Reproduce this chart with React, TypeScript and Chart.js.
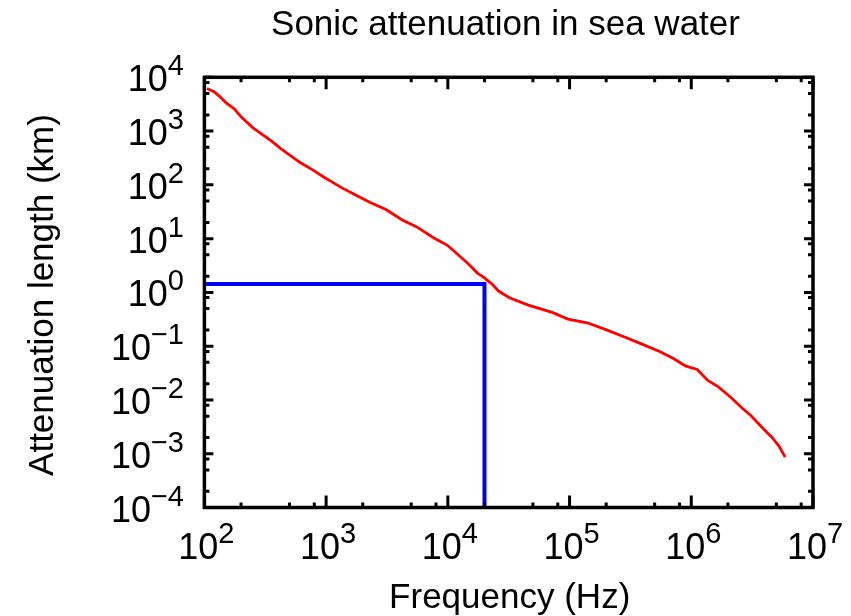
import React, { useEffect, useRef } from "react";
import { Chart, registerables } from "chart.js";

Chart.register(...registerables);

const chartTitle = "Sonic attenuation in sea water";
const xAxisTitle = "Frequency (Hz)";
const yAxisTitle = "Attenuation length (km)";

// Red curve: attenuation length vs frequency
const frequencyHz = [
  105, 120, 132, 151, 176, 200, 251, 302, 355, 427, 513, 617, 776, 955,
  1340, 1750, 2280, 3080, 4230, 5510, 7620, 9860, 11400, 14400, 17600,
  19500, 23100, 26100, 32100, 45900, 72100, 97000, 140000, 204000, 290000,
  394000, 550000, 714000, 897000, 1120000, 1360000, 1670000, 2120000,
  2640000, 3090000, 3730000, 4560000, 5200000, 5900000,
];
const attenuationKm = [
  6170, 5370, 4520, 3350, 2590, 1840, 1150, 851, 658, 468, 347, 257, 190, 140,
  88.7, 64.9, 47.4, 35.2, 22.2, 16.7, 10.4, 7.6, 5.7, 3.56, 2.26,
  1.95, 1.43, 1.06, 0.794, 0.579, 0.425, 0.318, 0.272, 0.199, 0.145,
  0.109, 0.0796, 0.059, 0.043, 0.0368, 0.0233, 0.0175, 0.0111,
  0.00692, 0.00513, 0.00324, 0.00205, 0.00143, 0.000867,
];

// Blue marker: 20 kHz cut
const markerFrequencyHz = [100, 20000, 20000];
const markerLengthKm = [1.44, 1.44, 0.0001];

const xTickExponents = [2, 3, 4, 5, 6, 7];
const yTickExponents = [-4, -3, -2, -1, 0, 1, 2, 3, 4];
const minorMultipliers = [2, 5, 8];

const FONT = '"Liberation Sans", Arial, Helvetica, sans-serif';

function expText(e: number) {
  return e < 0 ? "\u2212" + String(-e) : String(e);
}

const decorPlugin = {
  id: "decor",
  afterDatasetsDraw(chart: any) {
    const { ctx, chartArea: a, scales } = chart;
    const xs = scales.x;
    const ys = scales.y;
    ctx.save();
    ctx.strokeStyle = "#000";
    ctx.fillStyle = "#000";

    // frame
    ctx.lineWidth = 3.5;
    ctx.strokeRect(a.left, a.top, a.right - a.left, a.bottom - a.top);

    // ticks
    ctx.lineWidth = 3;
    ctx.beginPath();
    for (const e of xTickExponents) {
      const px = xs.getPixelForValue(Math.pow(10, e));
      ctx.moveTo(px, a.bottom);
      ctx.lineTo(px, a.bottom - 12);
      ctx.moveTo(px, a.top);
      ctx.lineTo(px, a.top + 12);
      if (e < xTickExponents[xTickExponents.length - 1]) {
        for (const m of minorMultipliers) {
          const mx = xs.getPixelForValue(m * Math.pow(10, e));
          ctx.moveTo(mx, a.bottom);
          ctx.lineTo(mx, a.bottom - 5);
          ctx.moveTo(mx, a.top);
          ctx.lineTo(mx, a.top + 5);
        }
      }
    }
    for (const e of yTickExponents) {
      const py = ys.getPixelForValue(Math.pow(10, e));
      ctx.moveTo(a.left, py);
      ctx.lineTo(a.left + 9, py);
      ctx.moveTo(a.right, py);
      ctx.lineTo(a.right - 9, py);
      if (e < yTickExponents[yTickExponents.length - 1]) {
        for (const m of minorMultipliers) {
          const my = ys.getPixelForValue(m * Math.pow(10, e));
          ctx.moveTo(a.left, my);
          ctx.lineTo(a.left + 5, my);
          ctx.moveTo(a.right, my);
          ctx.lineTo(a.right - 5, my);
        }
      }
    }
    ctx.stroke();

    const baseFont = `36px ${FONT}`;
    const supFont = `29px ${FONT}`;
    ctx.textBaseline = "alphabetic";
    ctx.textAlign = "left";

    // x tick labels
    for (const e of xTickExponents) {
      const px = xs.getPixelForValue(Math.pow(10, e));
      ctx.font = baseFont;
      const w1 = ctx.measureText("10").width;
      ctx.font = supFont;
      const w2 = ctx.measureText(expText(e)).width;
      const start = px - (w1 + w2) / 2 + 2;
      ctx.font = baseFont;
      ctx.fillText("10", start, a.bottom + 51);
      ctx.font = supFont;
      ctx.fillText(expText(e), start + w1, a.bottom + 35);
    }

    // y tick labels (right aligned)
    const rightEdge = 184;
    for (const e of yTickExponents) {
      const py = ys.getPixelForValue(Math.pow(10, e));
      ctx.font = supFont;
      const w2 = ctx.measureText(expText(e)).width;
      ctx.font = baseFont;
      const w1 = ctx.measureText("10").width;
      const start = rightEdge - w2 - w1;
      ctx.fillText("10", start, py + 14);
      ctx.font = supFont;
      ctx.fillText(expText(e), start + w1, py - 2);
    }

    // titles
    ctx.font = `35px ${FONT}`;
    ctx.textAlign = "center";
    ctx.fillText(chartTitle, 505.5, 35);
    ctx.fillText(xAxisTitle, (a.left + a.right) / 2 + 1, 608);
    ctx.save();
    ctx.translate(53, 295);
    ctx.rotate(-Math.PI / 2);
    ctx.fillText(yAxisTitle, 0, 0);
    ctx.restore();

    ctx.restore();
  },
};

export default function App() {
  const canvasRef = useRef<HTMLCanvasElement | null>(null);

  useEffect(() => {
    const canvas = canvasRef.current;
    if (!canvas) return;
    const chart = new Chart(canvas, {
      type: "line",
      data: {
        datasets: [
          {
            label: "attenuation",
            data: frequencyHz.map((f, i) => ({ x: f, y: attenuationKm[i] })),
            borderColor: "#ff0000",
            borderWidth: 2.8,
            pointRadius: 0,
            tension: 0,
            fill: false,
          },
          {
            label: "20 kHz",
            data: markerFrequencyHz.map((f, i) => ({ x: f, y: markerLengthKm[i] })),
            borderColor: "#0000ff",
            borderWidth: 4,
            pointRadius: 0,
            tension: 0,
            fill: false,
          },
        ],
      },
      options: {
        responsive: false,
        animation: false,
        devicePixelRatio: 1,
        layout: {
          padding: { left: 204.4, right: 38, top: 77.3, bottom: 108.5 },
        },
        plugins: {
          legend: { display: false },
          title: { display: false },
          tooltip: { enabled: false },
        },
        events: [],
        scales: {
          x: { type: "logarithmic", min: 100, max: 1e7, display: false },
          y: { type: "logarithmic", min: 1e-4, max: 1e4, display: false },
        },
      },
      plugins: [decorPlugin],
    });
    return () => chart.destroy();
  }, []);

  return (
    <div style={{ position: "fixed", left: 0, top: 0, width: 851, height: 616, background: "#fff" }}>
      <canvas ref={canvasRef} width={851} height={616} style={{ width: 851, height: 616 }} />
    </div>
  );
}
